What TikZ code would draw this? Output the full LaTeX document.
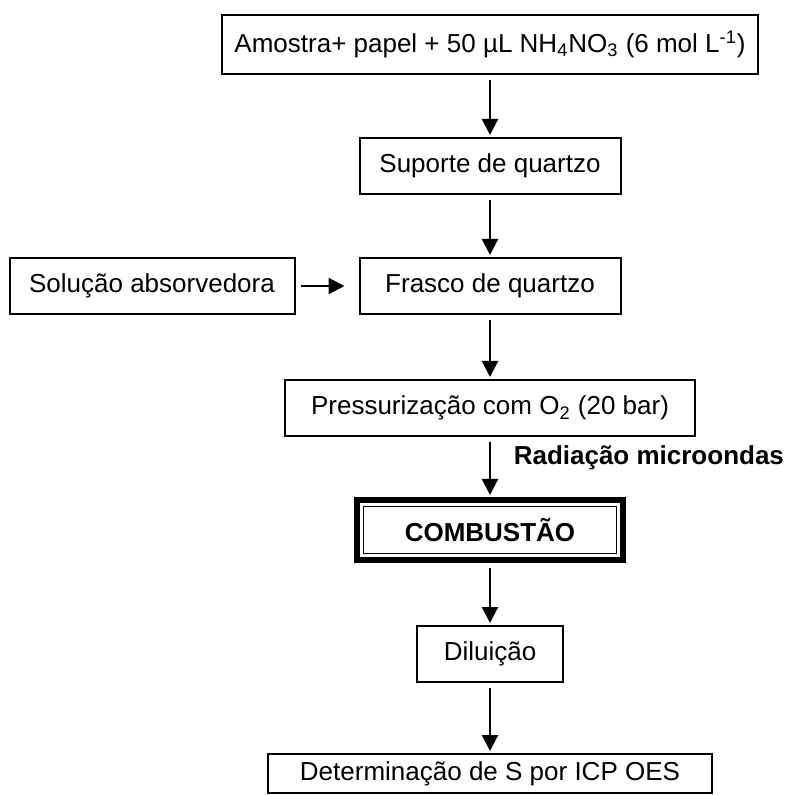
\documentclass[tikz,border=0pt]{standalone}
\usepackage{fontspec}
\setmainfont{Liberation Sans}
\usetikzlibrary{arrows.meta}
\usetikzlibrary{positioning}

\begin{document}
\begin{tikzpicture}[node distance=31pt and 31pt,
		font=\fontsize{13}{15.5}\selectfont,
		box/.style={draw,rectangle,line width=1pt,minimum height=28pt},
		flow/.style={-{Triangle[width=8pt,length=8pt]},line width=1.1pt,shorten <=2.5pt,shorten >=1pt}]
		\useasboundingbox (0,0) rectangle (398pt,-397.5pt);

		\node [box,minimum width=268pt,minimum height=29.5pt] (amostra) at (245pt,-22.25pt) {Amostra+ papel + 50 µL NH\textsubscript{4}NO\textsubscript{3} (6 mol L\textsuperscript{-1})};
		\node [box,below=of amostra,minimum width=130.5pt] (suporte) {Suporte de quartzo};
		\node [box,below=of suporte,minimum width=130.5pt] (frasco) {Frasco de quartzo};
		\node [box,left=31.5pt of frasco,minimum width=142.5pt] (solucao) {Solução absorvedora};
		\node [box,below=32pt of frasco,minimum width=205pt] (press) {Pressurização com O\textsubscript{2} (20 bar)};
		\node [draw,rectangle,line width=3pt,below=30pt of press,minimum width=133pt,minimum height=30pt] (comb) {};
		\node [draw,rectangle,line width=0.8pt,minimum width=126.5pt,minimum height=23.5pt] at (comb) {\bfseries COMBUSTÃO};
		\node [box,below=of comb,minimum width=73pt] (dil) {Diluição};
		\node [box,below=35pt of dil,minimum width=222pt,minimum height=19.5pt] (det) {Determinação de S por ICP OES};

		\draw [flow] (amostra) -- (suporte);
		\draw [flow] (suporte) -- (frasco);
		\draw [flow,shorten >=7pt] (solucao) -- (frasco);
		\draw [flow] (frasco) -- (press);
		\draw [flow] (press) -- node [pos=0.35,right=8pt] {\bfseries Radiação microondas} (comb);
		\draw [flow] (comb) -- (dil);
		\draw [flow] (dil) -- (det);
	\end{tikzpicture}
\end{document}
